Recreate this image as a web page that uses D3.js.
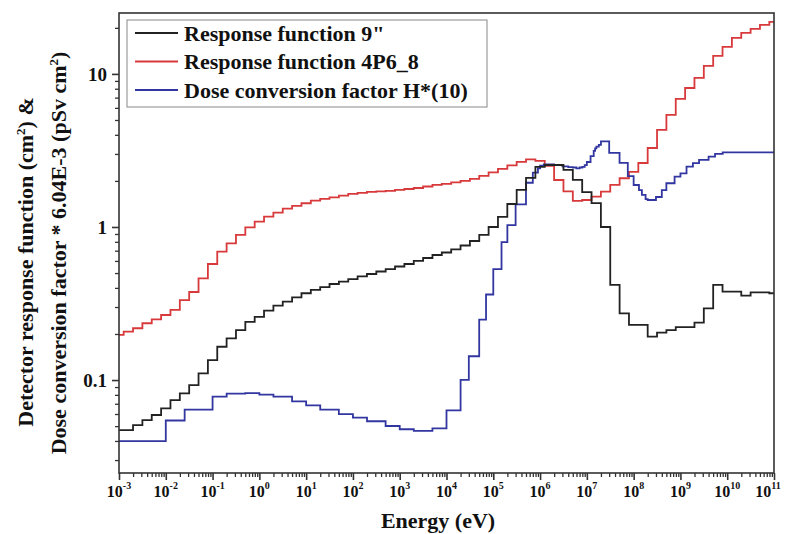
<!DOCTYPE html>
<meta charset="utf-8">
<title>Response functions</title>

<style>
    body { margin: 0; background: #fff; }
    svg text {
        font-family: "Liberation Serif", "Times New Roman", serif;
        font-weight: bold;
        fill: #111;
    }
    .line { fill: none; stroke-width: 1.8px; }
    .frame { fill: none; stroke: #333; stroke-width: 1.6px; }
</style>

<body>
<script src="https://d3js.org/d3.v7.min.js"></script>

<script>
// energy grid of the two response functions (log10 of E in eV)
var logE = [-3.0, -2.8, -2.6, -2.4, -2.2, -2.0, -1.8, -1.6, -1.4, -1.2,
            -1.0, -0.8, -0.6, -0.4, -0.2, 0.0, 0.2, 0.4, 0.6, 0.8,
            1.0, 1.2, 1.4, 1.6, 1.8, 2.0, 2.2, 2.4, 2.6, 2.8,
            3.0, 3.2, 3.4, 3.6, 3.8, 4.0, 4.2, 4.4, 4.6, 4.8,
            5.0, 5.2, 5.4, 5.6, 5.8, 6.0, 6.2, 6.4, 6.6, 6.8,
            7.0, 7.2, 7.4, 7.6, 7.8, 8.0, 8.2, 8.4, 8.6, 8.8,
            9.0, 9.2, 9.4, 9.6, 9.8, 10.0, 10.2, 10.4, 10.6, 10.8, 11.0];

// Response function 9"
var resp9 = [0.0471, 0.0471, 0.0508, 0.0548, 0.0591, 0.0653, 0.0740, 0.0818, 0.0927, 0.1106,
             0.135, 0.165, 0.187, 0.212, 0.240, 0.259, 0.284, 0.306, 0.325, 0.347,
             0.369, 0.388, 0.405, 0.424, 0.440, 0.457, 0.475, 0.493, 0.512, 0.531,
             0.552, 0.573, 0.600, 0.627, 0.656, 0.681, 0.713, 0.757, 0.810, 0.887,
             1.00, 1.163, 1.413, 1.745, 2.09, 2.47, 2.54, 2.54, 2.36, 2.03,
             1.69, 1.43, 1.00, 0.418, 0.273, 0.229, 0.229, 0.192, 0.204, 0.212,
             0.222, 0.222, 0.237, 0.294, 0.418, 0.378, 0.378, 0.356, 0.374, 0.374, 0.369];

// Response function 4P6_8
var resp4P6 = [0.197, 0.207, 0.218, 0.235, 0.249, 0.266, 0.287, 0.333, 0.376, 0.462,
               0.573, 0.690, 0.782, 0.887, 0.995, 1.083, 1.168, 1.240, 1.317, 1.372,
               1.429, 1.486, 1.524, 1.563, 1.602, 1.643, 1.668, 1.694, 1.707, 1.719,
               1.746, 1.771, 1.798, 1.839, 1.882, 1.910, 1.954, 1.998, 2.059, 2.154,
               2.271, 2.393, 2.523, 2.659, 2.761, 2.699, 2.504, 2.028, 1.707, 1.479,
               1.501, 1.578, 1.701, 1.882, 2.081, 2.288, 2.619, 3.281, 4.306, 5.397,
               6.865, 8.09, 9.42, 11.28, 13.11, 15.01, 17.18, 18.53, 19.68, 20.9, 21.88];

// Dose conversion factor H*(10) (already multiplied by 6.04E-3), own energy grid in eV
var doseE = [1e-3, 1e-2, 2.53e-2, 1e-1, 2e-1, 5e-1, 1, 2, 5, 10,
             20, 50, 100, 200, 500, 1e3, 2e3, 5e3, 1e4, 2e4,
             3e4, 5e4, 7e4, 1e5, 1.5e5, 2e5, 3e5, 5e5, 7e5, 9e5,
             1e6, 1.2e6, 2e6, 3e6, 4e6, 5e6, 6e6, 7e6, 8e6, 9e6,
             1e7, 1.2e7, 1.4e7, 1.5e7, 1.6e7, 1.8e7, 2e7, 3e7, 5e7, 7.5e7,
             1e8, 1.3e8, 1.5e8, 1.8e8, 2e8, 3e8, 4e8, 5e8, 7.5e8, 1e9,
             1.35e9, 1.85e9, 2.5e9, 4e9, 5.5e9, 8e9, 1e11];
var doseH = [0.0399, 0.0544, 0.0640, 0.0779, 0.0815, 0.0821, 0.0803, 0.0779, 0.0725, 0.0683,
             0.0640, 0.0598, 0.0568, 0.0538, 0.0501, 0.0477, 0.0465, 0.0483, 0.0634, 0.1003,
             0.143, 0.248, 0.362, 0.531, 0.797, 1.027, 1.407, 1.945, 2.265, 2.416,
             2.513, 2.567, 2.537, 2.488, 2.464, 2.446, 2.416, 2.446, 2.470, 2.537,
             2.658, 2.899, 3.141, 3.262, 3.352, 3.443, 3.624, 3.05, 2.62, 2.15,
             1.88, 1.74, 1.62, 1.52, 1.50, 1.57, 1.74, 1.93, 2.13, 2.24,
             2.48, 2.61, 2.74, 2.88, 3.00, 3.07, 3.05];

var seriesNames = ['Response function 9"', "Response function 4P6_8", "Dose conversion factor H*(10)"];
var seriesColors = ["#222222", "#d8393b", "#3236a0"];
var xDecades = [-3, -2, -1, 0, 1, 2, 3, 4, 5, 6, 7, 8, 9, 10, 11];
var yLabels = [0.1, 1, 10];

// plot area
var margin = {top: 13, right: 11, bottom: 61, left: 119},
    W = 785, H = 534,
    width = W - margin.left - margin.right,
    height = H - margin.top - margin.bottom;

var svg = d3.select("body").append("svg")
    .attr("width", W)
    .attr("height", H);

var g = svg.append("g")
    .attr("transform", "translate(" + margin.left + "," + margin.top + ")");

var x = d3.scaleLog().domain([1e-3, 1e11]).range([0, width]);
var y = d3.scaleLog().domain([0.0247, 25]).range([height, 0]);

// tick positions
var xMinor = [];
xDecades.forEach(function(e) {
    if (e < 11) for (var k = 2; k <= 9; k++) xMinor.push(k * Math.pow(10, e));
});
var yMinor = [];
[-2, -1, 0, 1].forEach(function(e) {
    for (var k = 2; k <= 9; k++) {
        var v = k * Math.pow(10, e);
        if (v > 0.0247 && v < 25) yMinor.push(v);
    }
});

// x ticks (pointing down)
g.append("g")
    .attr("transform", "translate(0," + height + ")")
    .call(d3.axisBottom(x).tickValues(xMinor).tickSize(4).tickFormat(""))
    .call(function(s) { s.select(".domain").remove(); })
    .selectAll("line").attr("stroke", "#333").attr("stroke-width", 1.3);
g.append("g")
    .attr("transform", "translate(0," + height + ")")
    .call(d3.axisBottom(x).tickValues(xDecades.map(function(e) { return Math.pow(10, e); }))
        .tickSize(7).tickFormat(""))
    .call(function(s) { s.select(".domain").remove(); })
    .selectAll("line").attr("stroke", "#333").attr("stroke-width", 1.6);

// y ticks (pointing left)
g.append("g")
    .call(d3.axisLeft(y).tickValues(yMinor).tickSize(4).tickFormat(""))
    .call(function(s) { s.select(".domain").remove(); })
    .selectAll("line").attr("stroke", "#333").attr("stroke-width", 1.3);
g.append("g")
    .call(d3.axisLeft(y).tickValues(yLabels).tickSize(7).tickFormat(""))
    .call(function(s) { s.select(".domain").remove(); })
    .selectAll("line").attr("stroke", "#333").attr("stroke-width", 1.6);

// x tick labels 10^n (last one pulled in so it stays on the page)
var xl = g.selectAll(".xlab").data(xDecades).enter().append("text")
    .attr("class", "xlab")
    .attr("x", function(e) { return x(Math.pow(10, e)) - (e === 11 ? 6 : 0); })
    .attr("y", height + 24)
    .attr("text-anchor", "middle")
    .style("font-size", "16px");
xl.append("tspan").text("10");
xl.append("tspan")
    .attr("dy", -8)
    .style("font-size", "10px")
    .text(function(e) { return e; });

// y tick labels
g.selectAll(".ylab").data(yLabels).enter().append("text")
    .attr("class", "ylab")
    .attr("x", -12)
    .attr("y", function(d) { return y(d); })
    .attr("dy", "0.35em")
    .attr("text-anchor", "end")
    .style("font-size", "19px")
    .text(function(d) { return d; });

// clip for lines
g.append("clipPath").attr("id", "clip")
    .append("rect").attr("width", width).attr("height", height);

var stepLine = d3.line()
    .curve(d3.curveStep)
    .x(function(d) { return x(Math.pow(10, d[0])); })
    .y(function(d) { return y(d[1]); });

var stepAfter = d3.line()
    .curve(d3.curveStepAfter)
    .x(function(d) { return x(d[0]); })
    .y(function(d) { return y(d[1]); });

var lines = g.append("g").attr("clip-path", "url(#clip)");

lines.append("path")
    .datum(d3.zip(logE, resp4P6))
    .attr("class", "line")
    .style("stroke", seriesColors[1])
    .attr("d", stepLine);

lines.append("path")
    .datum(d3.zip(doseE, doseH))
    .attr("class", "line")
    .style("stroke", seriesColors[2])
    .attr("d", stepAfter);

lines.append("path")
    .datum(d3.zip(logE, resp9))
    .attr("class", "line")
    .style("stroke", seriesColors[0])
    .attr("d", stepLine);

// frame
g.append("rect")
    .attr("class", "frame")
    .attr("width", width)
    .attr("height", height);

// legend
var lg = svg.append("g").attr("transform", "translate(127,20)");
lg.append("rect")
    .attr("width", 360).attr("height", 87)
    .attr("fill", "#fff").attr("stroke", "#888").attr("stroke-width", 1);
seriesNames.forEach(function(name, i) {
    var yy = 13 + i * 28.5;
    lg.append("line")
        .attr("x1", 8).attr("x2", 51)
        .attr("y1", yy).attr("y2", yy)
        .attr("stroke", seriesColors[i]).attr("stroke-width", 1.8);
    lg.append("text")
        .attr("x", 57).attr("y", yy)
        .attr("dy", "0.35em")
        .style("font-size", "22px")
        .text(name);
});

// axis titles
svg.append("text")
    .attr("x", 438)
    .attr("y", 528)
    .attr("text-anchor", "middle")
    .style("font-size", "22px")
    .text("Energy (eV)");

var t1 = svg.append("text")
    .attr("transform", "translate(33,262) rotate(-90)")
    .attr("text-anchor", "middle")
    .style("font-size", "22px");
t1.append("tspan").text("Detector response function (cm");
t1.append("tspan").attr("dy", -8).style("font-size", "13px").text("2");
t1.append("tspan").attr("dy", 8).text(") &");

var t2 = svg.append("text")
    .attr("transform", "translate(66,253) rotate(-90)")
    .attr("text-anchor", "middle")
    .style("font-size", "22px");
t2.append("tspan").text("Dose conversion factor * 6.04E-3 (pSv cm");
t2.append("tspan").attr("dy", -8).style("font-size", "13px").text("2");
t2.append("tspan").attr("dy", 8).text(")");
</script>
</body>
